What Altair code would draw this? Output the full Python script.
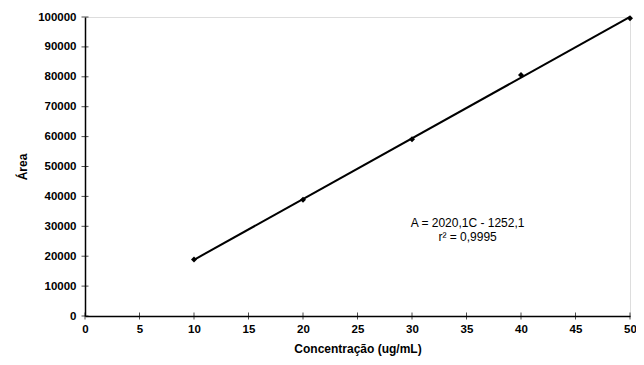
import altair as alt
import pandas as pd

# Data
conc = [10, 20, 30, 40, 50]
area = [18900, 38900, 59100, 80600, 99600]

x_ticks = [0, 5, 10, 15, 20, 25, 30, 35, 40, 45, 50]
y_ticks = [0, 10000, 20000, 30000, 40000, 50000, 60000, 70000, 80000, 90000, 100000]

eq_lines = ["A = 2020,1C - 1252,1", "r² = 0,9995"]
eq_x = [35.1, 35.1]
eq_y = [31000, 26500]

FONT = "Liberation Sans"

df = pd.DataFrame({"conc": conc, "area": area})
xt = pd.DataFrame({"conc": x_ticks, "area": [0] * len(x_ticks)})
yt = pd.DataFrame({"area": y_ticks, "conc": [0] * len(y_ticks)})
eq = pd.DataFrame({"t": eq_lines, "conc": eq_x, "area": eq_y})

xs = alt.Scale(domain=[0, 50], nice=False)
ys = alt.Scale(domain=[0, 100000], nice=False)


def ax(title, values, lp, tp):
    return alt.Axis(
        title=title, values=values, grid=False, ticks=False,
        labelFont=FONT, labelFontSize=11.5, labelFontWeight="bold", labelColor="black",
        labelPadding=lp, labelOverlap=False, format="d",
        titleFont=FONT, titleFontSize=12, titleFontWeight="bold",
        titleColor="black", titlePadding=tp, domainColor="black", domainWidth=1.5,
        labelFlush=False,
    )


X = alt.X("conc:Q", scale=xs, axis=ax("Concentração (ug/mL)", x_ticks, 7, 9))
Y = alt.Y("area:Q", scale=ys, axis=ax("Área", y_ticks, 9, 8))

base = alt.Chart(df)

fit = base.transform_regression("conc", "area").mark_line(
    color="black", strokeWidth=2
).encode(x=X, y=Y)

pts = base.mark_point(
    shape="diamond", filled=True, color="black", size=36, opacity=1
).encode(x=X, y=Y)

xticks = alt.Chart(xt).mark_tick(
    orient="vertical", color="black", size=7, thickness=1
).encode(x=X, y=Y)

yticks = alt.Chart(yt).mark_tick(
    orient="horizontal", color="black", size=7, thickness=1
).encode(x=X, y=Y)

txt = alt.Chart(eq).mark_text(
    font=FONT, fontSize=12, color="black", align="center", baseline="middle"
).encode(x=X, y=Y, text="t:N")

chart = alt.layer(fit, pts, xticks, yticks, txt).properties(
    width=545, height=299,
    autosize=alt.AutoSizeParams(type="none"),
    padding={"left": 77, "top": 9, "right": 6, "bottom": 40},
).configure_view(stroke=None).configure_axis(labelOverlap=False).configure(background="white")

chart.save("out.html", embed_options={"renderer": "svg", "actions": False})
